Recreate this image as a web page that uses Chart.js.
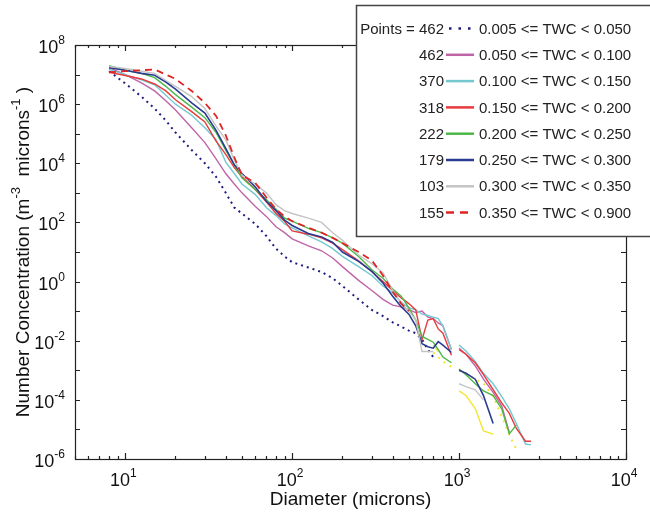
<!DOCTYPE html>
<html>
<head>
<meta charset="utf-8">
<title>Number concentration vs diameter</title>
<script src="https://cdn.jsdelivr.net/npm/chart.js@4.4.1/dist/chart.umd.min.js"></script>
<style>
  html, body { margin: 0; padding: 0; background: #fff; }
  #wrap { width: 650px; height: 516px; }
</style>
</head>
<body>
<div id="wrap"><canvas id="chartjs-0" width="650" height="516"></canvas></div>
<script>
// size bins (microns), shared by every TWC class; null = no data in that bin
var diameter = [8, 10, 12.5, 15, 17.5, 20, 25, 30, 35, 40, 45, 50, 60, 70, 80, 90, 100,
    125, 150, 175, 200, 250, 300, 350, 400, 450, 500, 550, 600, 650, 700, 750, 800, 900, 950,
    1000, 1100, 1250, 1400, 1600, 1800, 2000, 2200, 2500, 2700];

var twc1 = [1.3e7, 5.0e6, 1.8e6, 7.1e5, 2.8e5, 1.1e5, 2.8e4, 1.0e4, 3.5e3, 1.0e3, 3.2e2, 2.0e2, 89, 35, 13, 7.1, 4.5,
    3.0, 2.1, 1.3, 0.71, 0.25, 0.11, 0.068, 0.042, 0.03, 0.022, 0.018, 0.011, 0.005, 0.0028, null, null, null, null,
    null, null, null, null, null, null, null, null, null, null];
var twc2 = [1.7e7, 1.0e7, 5.2e6, 2.8e6, 1.3e6, 6.3e5, 1.6e5, 5.0e4, 1.4e4, 4.5e3, 2.0e3, 1.0e3, 3.5e2, 1.6e2, 71, 45, 28,
    16, 11, 6.3, 3.2, 1.1, 0.5, 0.25, 0.16, 0.14, 0.11, 0.089, 0.1, 0.063, 0.056, 0.04, 0.032, 0.005, null,
    0.0056, 0.0035, 0.0014, 5.0e-4, 1.8e-4, 6.3e-5, 7.9e-6, null, null, null];
var twc3 = [1.5e7, 1.0e7, 6.6e6, 4.5e6, 2.0e6, 1.0e6, 4.2e5, 1.6e5, 6.3e4, 1.1e4, 4.5e3, 2.0e3, 8.9e2, 3.2e2, 1.7e2, 89, 66,
    35, 22, 13, 7.1, 3.2, 1.6, 0.71, 0.42, 0.2, 0.13, 0.11, 0.079, 0.071, 0.063, 0.056, 0.032, 0.005, null,
    0.0071, 0.0045, 0.002, 7.9e-4, 3.5e-4, 1.3e-4, 5.0e-5, 1.6e-5, 3.2e-6, 3.0e-6];
var twc4 = [1.2e7, 9.3e6, 7.1e6, 4.8e6, 2.8e6, 1.4e6, 5.6e5, 2.5e5, 5.6e4, 2.0e4, 7.1e3, 3.5e3, 1.3e3, 5.0e2, 2.0e2, 1.1e2, 52,
    40, 30, 20, 12, 5.0, 2.2, 1.0, 0.5, 0.28, 0.18, 0.11, 0.011, 0.05, 0.056, 0.025, 0.018, 0.0032, null,
    0.005, 0.0035, 0.0018, 7.1e-4, 2.2e-4, 7.9e-5, 3.5e-5, 1.1e-5, 4.0e-6, 4.0e-6];
var twc5 = [2.0e7, 1.4e7, 1.1e7, 7.9e6, 4.0e6, 2.1e6, 7.9e5, 3.5e5, 1.1e5, 2.8e4, 8.9e3, 3.2e3, 1.3e3, 6.0e2, 2.8e2, 1.4e2, 1.1e2,
    63, 45, 30, 20, 7.1, 2.5, 1.3, 0.56, 0.32, 0.13, 0.05, 0.014, 0.011, 0.0089, 0.005, 0.0028, 0.0018, null,
    0.0011, 7.1e-4, 3.5e-4, 2.0e-4, 1.4e-4, 5.0e-5, 7.1e-6, 1.4e-5, null, null];
var twc6 = [1.7e7, 1.4e7, 1.1e7, 9.5e6, 5.6e6, 3.2e6, 1.1e6, 5.0e5, 1.3e5, 3.2e4, 8.9e3, 4.5e3, 1.6e3, 5.2e2, 2.5e2, 1.2e2, 79,
    42, 32, 21, 10, 4.8, 2.2, 0.89, 0.32, 0.14, 0.079, 0.032, 0.0079, 0.0063, 0.0056, 0.0093, 0.0071, 0.004, null,
    0.001, 7.9e-4, 5.0e-4, 1.4e-4, 1.6e-5, null, null, null, null, null];
var twc7 = [1.9e7, 1.6e7, 1.3e7, 1.1e7, 6.3e6, 4.0e6, 1.8e6, 7.1e5, 1.8e5, 6.3e4, 1.3e4, 4.0e3, 2.0e3, 1.0e3, 4.0e2, 2.5e2, 2.0e2,
    1.4e2, 1.0e2, 45, 25, 7.9, 4.0, 2.0, 0.5, 0.18, 0.1, 0.05, 0.0043, 0.0043, 0.0043, null, null, null, null,
    3.5e-4, 2.8e-4, 2.2e-4, 1.0e-4, null, null, null, null, null, null];
var twc8 = [1.2e7, 1.3e7, 1.4e7, 1.5e7, 1.0e7, 7.1e6, 2.8e6, 1.1e6, 4.0e5, 8.9e4, 1.6e4, 4.0e3, 2.2e3, 7.1e2, 2.8e2, 1.6e2, 1.1e2,
    66, 45, 30, 20, 10, 5.2, 1.6, 0.45, 0.18, 0.1, null, null, null, null, null, null, null, null,
    null, null, null, null, null, null, null, null, null, null];
// two yellow traces that are plotted but not listed in the legend
var extraDotted = [null, null, null, null, null, null, null, null, null, null, null, null, null, null, null, null, null,
    null, null, null, null, null, null, null, null, null, null, null, null, null, 0.004, 0.0028, 0.002, 0.0013, null,
    0.001, 7.9e-4, 5.0e-4, 3.6e-4, 1.3e-4, 2.8e-5, 6.3e-6, 2.2e-6, null, null];
var extraSolid = [null, null, null, null, null, null, null, null, null, null, null, null, null, null, null, null, null,
    null, null, null, null, null, null, null, null, null, null, null, null, null, 0.0072, 0.0043, null, null, null,
    2.0e-4, 1.4e-4, 5.1e-5, 8.9e-6, 6.9e-6, null, null, null, null, null];

var pointCounts = ["462", "462", "370", "318", "222", "179", "103", "155"];
var classLabels = ["0.005 <= TWC < 0.050", "0.050 <= TWC < 0.100", "0.100 <= TWC < 0.150", "0.150 <= TWC < 0.200",
    "0.200 <= TWC < 0.250", "0.250 <= TWC < 0.300", "0.300 <= TWC < 0.350", "0.350 <= TWC < 0.900"];
var xTickExps = [1, 2, 3, 4];
var yTickExps = [8, 6, 4, 2, 0, -2, -4, -6];

var FONT = '"Liberation Sans", Arial, Helvetica, sans-serif';

var styles = [
    { color: "#1c1c80", dash: [2, 4], width: 2 },
    { color: "#c064a8", dash: [], width: 1.4 },
    { color: "#74c9d0", dash: [], width: 1.4 },
    { color: "#e83a3c", dash: [], width: 1.4 },
    { color: "#4db848", dash: [], width: 1.4 },
    { color: "#2a3c92", dash: [], width: 1.6 },
    { color: "#c4c4c4", dash: [], width: 1.4 },
    { color: "#e02424", dash: [7, 5], width: 1.8 }
];
var allSeries = [twc1, twc2, twc3, twc4, twc5, twc6, twc7, twc8];

function toPoints(vals) {
    return diameter.map(function (d, i) { return { x: d, y: vals[i] }; });
}

var datasets = [];
datasets.push({ label: "extra dotted", data: toPoints(extraDotted), borderColor: "#f2e632",
    borderDash: [2, 5], borderWidth: 2, order: 20 });
datasets.push({ label: "extra solid", data: toPoints(extraSolid), borderColor: "#f2e632",
    borderWidth: 1.4, order: 19 });
for (var i = 0; i < allSeries.length; i++) {
    datasets.push({
        label: classLabels[i],
        data: toPoints(allSeries[i]),
        borderColor: styles[i].color,
        borderDash: styles[i].dash,
        borderWidth: styles[i].width,
        order: 10 - i
    });
}

/* draw "10" with a raised exponent */
function drawPow(ctx, exp, x, y, align) {
    ctx.font = "18px " + FONT;
    var wBase = ctx.measureText("10").width;
    ctx.font = "12px " + FONT;
    var wExp = ctx.measureText(exp).width;
    var left = align === "right" ? x - wBase - wExp : x - (wBase + wExp) / 2;
    ctx.textAlign = "left";
    ctx.textBaseline = "alphabetic";
    ctx.font = "18px " + FONT;
    ctx.fillText("10", left, y);
    ctx.font = "12px " + FONT;
    ctx.fillText(exp, left + wBase, y - 9);
}

var framePlugin = {
    id: "frame",
    afterDraw: function (chart) {
        var ctx = chart.ctx;
        var a = chart.chartArea;
        var xs = chart.scales.x, ys = chart.scales.y;
        ctx.save();
        ctx.fillStyle = "#111";
        ctx.strokeStyle = "#222";
        ctx.lineWidth = 1.2;
        ctx.setLineDash([]);

        // ticks on all four sides, pointing inward
        ctx.beginPath();
        for (var dec = 1; dec <= 1000; dec *= 10) {
            for (var k = 1; k <= 10; k++) {
                var v = k * dec;
                if (v < 5 || v > 10000) continue;
                var px = Math.round(xs.getPixelForValue(v)) + 0.5;
                var len = (k === 1 || k === 10) ? 6 : 3;
                ctx.moveTo(px, a.bottom); ctx.lineTo(px, a.bottom - len);
                ctx.moveTo(px, a.top); ctx.lineTo(px, a.top + len);
            }
        }
        for (var k2 = 5; k2 <= 9; k2++) {
            var px2 = Math.round(xs.getPixelForValue(k2)) + 0.5;
            ctx.moveTo(px2, a.bottom); ctx.lineTo(px2, a.bottom - 3);
            ctx.moveTo(px2, a.top); ctx.lineTo(px2, a.top + 3);
        }
        for (var e = -6; e <= 8; e++) {
            var py = Math.round(ys.getPixelForValue(Math.pow(10, e))) + 0.5;
            ctx.moveTo(a.left, py); ctx.lineTo(a.left + 5, py);
            ctx.moveTo(a.right, py); ctx.lineTo(a.right - 5, py);
        }
        ctx.stroke();
        ctx.strokeRect(Math.round(a.left) + 0.5, Math.round(a.top) + 0.5,
            Math.round(a.right - a.left), Math.round(a.bottom - a.top));

        // tick labels
        xTickExps.forEach(function (ex) {
            drawPow(ctx, String(ex), xs.getPixelForValue(Math.pow(10, ex)) - 2, a.bottom + 27, "center");
        });
        yTickExps.forEach(function (ey) {
            drawPow(ctx, String(ey), a.left - 10, ys.getPixelForValue(Math.pow(10, ey)) + 8, "right");
        });

        // axis titles
        ctx.font = "19px " + FONT;
        ctx.textAlign = "center";
        ctx.fillText("Diameter (microns)", (a.left + a.right) / 2, 505);

        var parts = [["Number Concentration (m", 0], ["-3", 1], ["  microns", 0], ["-1", 1], [" )", 0]];
        var total = 0;
        parts.forEach(function (p) {
            ctx.font = (p[1] ? "13px " : "19px ") + FONT;
            total += ctx.measureText(p[0]).width;
        });
        ctx.save();
        ctx.translate(29, (a.top + a.bottom) / 2);
        ctx.rotate(-Math.PI / 2);
        ctx.textAlign = "left";
        var cx = -total / 2;
        parts.forEach(function (p) {
            ctx.font = (p[1] ? "13px " : "19px ") + FONT;
            ctx.fillText(p[0], cx, p[1] ? -9 : 0);
            cx += ctx.measureText(p[0]).width;
        });
        ctx.restore();

        // legend box
        ctx.fillStyle = "#fff";
        ctx.fillRect(356, 5, 300, 232);
        ctx.strokeStyle = "#444";
        ctx.lineWidth = 1.5;
        ctx.strokeRect(356.5, 5.5, 300, 231);
        ctx.font = "15px " + FONT;
        ctx.textBaseline = "middle";
        for (var r = 0; r < classLabels.length; r++) {
            var ry = 28.5 + r * 26.3;
            ctx.fillStyle = "#222";
            ctx.textAlign = "right";
            ctx.fillText(r === 0 ? "Points = " + pointCounts[r] : pointCounts[r], 444, ry + 1);
            ctx.textAlign = "left";
            ctx.fillText(classLabels[r], 479, ry + 1);
            ctx.beginPath();
            ctx.strokeStyle = styles[r].color;
            ctx.lineWidth = r === 0 ? 2.5 : 2.5;
            ctx.setLineDash(r === 0 ? [2.5, 7] : (r === 7 ? [8, 6] : []));
            ctx.moveTo(r === 0 ? 449 : 446, ry);
            ctx.lineTo(474, ry);
            ctx.stroke();
            ctx.setLineDash([]);
        }
        ctx.restore();
    }
};

var ctx0 = document.getElementById("chartjs-0");
var myChart = new Chart(ctx0, {
    type: "line",
    data: { datasets: datasets },
    options: {
        responsive: false,
        animation: false,
        spanGaps: false,
        layout: { padding: { left: 75, top: 45, right: 24, bottom: 57 } },
        elements: { point: { radius: 0 }, line: { tension: 0, borderCapStyle: "butt" } },
        plugins: { legend: { display: false }, tooltip: { enabled: false } },
        scales: {
            x: { type: "logarithmic", min: 5, max: 10000, display: false },
            y: { type: "logarithmic", min: 1e-6, max: 1e8, display: false }
        }
    },
    plugins: [framePlugin]
});
</script>
</body>
</html>
